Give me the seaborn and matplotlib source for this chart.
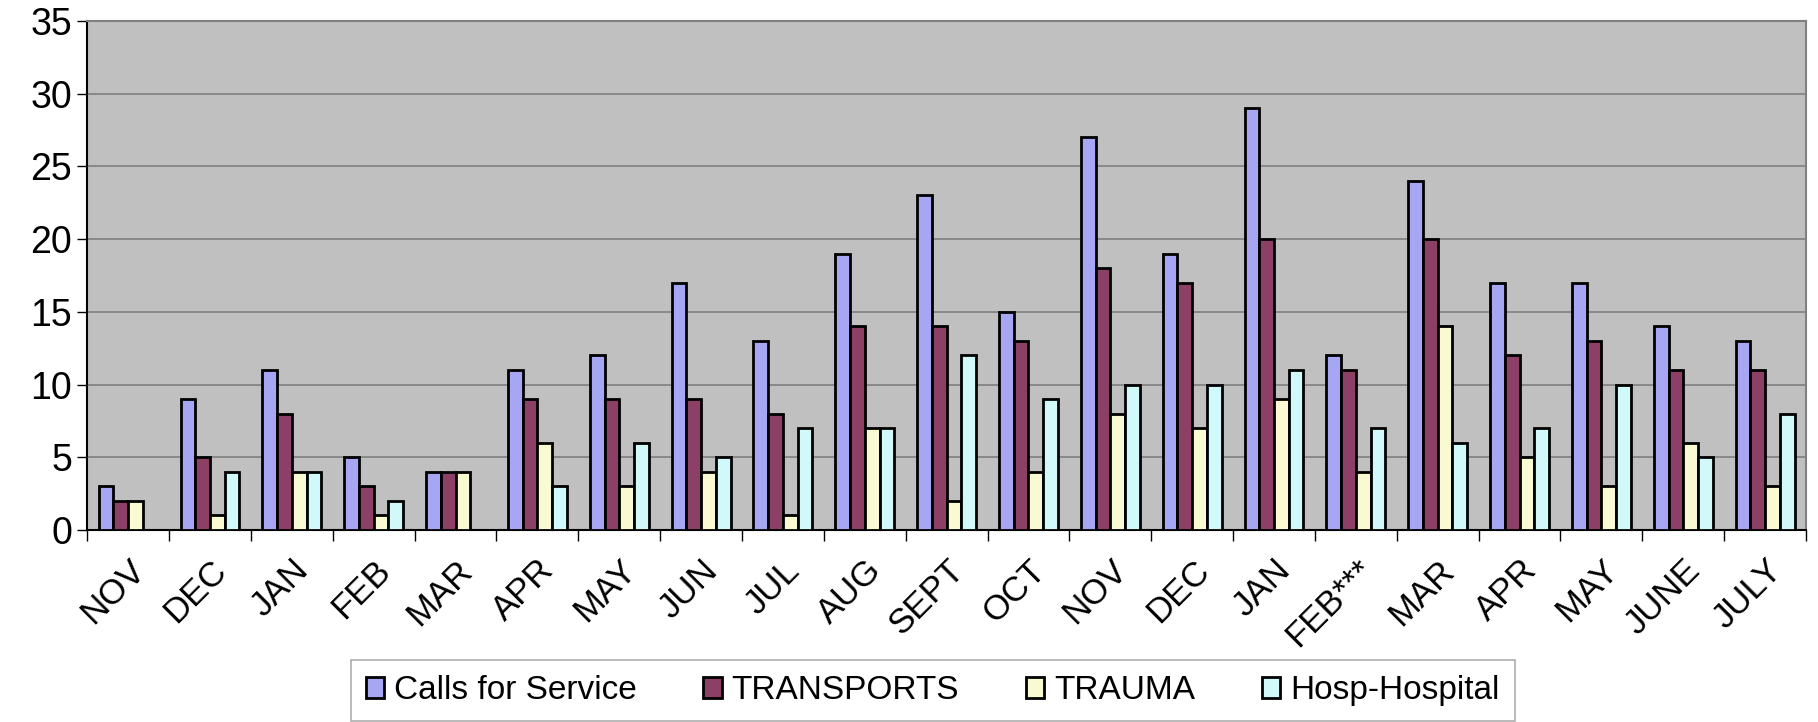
import pandas as pd
import matplotlib.pyplot as plt
import seaborn as sns

# 月份标签（有重复，所以画图时用序号）
months = ["NOV", "DEC", "JAN", "FEB", "MAR", "APR", "MAY", "JUN", "JUL", "AUG", "SEPT",
          "OCT", "NOV", "DEC", "JAN", "FEB***", "MAR", "APR", "MAY", "JUNE", "JULY"]
calls = [3, 9, 11, 5, 4, 11, 12, 17, 13, 19, 23, 15, 27, 19, 29, 12, 24, 17, 17, 14, 13]
transports = [2, 5, 8, 3, 4, 9, 9, 9, 8, 14, 14, 13, 18, 17, 20, 11, 20, 12, 13, 11, 11]
trauma = [2, 1, 4, 1, 4, 6, 3, 4, 1, 7, 2, 4, 8, 7, 9, 4, 14, 5, 3, 6, 3]
hosp = [0, 4, 4, 2, 0, 3, 6, 5, 7, 7, 12, 9, 10, 10, 11, 7, 6, 7, 10, 5, 8]

series = ["Calls for Service", "TRANSPORTS", "TRAUMA", "Hosp-Hospital"]
colors = ["#9999FF", "#993366", "#FFFFCC", "#CCFFFF"]

keys = [str(i) for i in range(len(months))]
df = pd.DataFrame({"key": keys, series[0]: calls, series[1]: transports,
                   series[2]: trauma, series[3]: hosp})
long = df.melt(id_vars="key", var_name="series", value_name="value")

plt.rcParams['font.family'] = ['Liberation Sans', 'DejaVu Sans']

fig = plt.figure(figsize=(18.18, 7.22), dpi=100)
ax = fig.add_axes([0.048, 0.266, 0.9454, 0.705])
ax.set_facecolor("#C0C0C0")

sns.barplot(data=long, x="key", y="value", hue="series", order=keys,
            hue_order=series, palette=colors, width=0.72, gap=0,
            edgecolor="black", linewidth=2.0, ax=ax, zorder=3)

ax.set_ylim(0, 35)
ax.set_yticks(range(0, 36, 5))
ax.set_xlim(-0.5, len(months) - 0.5)
ax.yaxis.grid(True, color="#808080", linewidth=1.2, zorder=0)
ax.set_axisbelow(True)

# 刻度：标签在中间，刻度线在分组之间
ax.set_xticks(range(len(months)))
ax.set_xticklabels(months, rotation=45, ha="right", rotation_mode="anchor", fontsize=25)
ax.tick_params(axis="x", length=0, pad=17)
ax.set_xticks([i - 0.5 for i in range(len(months) + 1)], minor=True)
ax.tick_params(axis="x", which="minor", length=8, color="black", width=1)
ax.tick_params(axis="y", labelsize=27, length=7, width=1, pad=4)

ax.set_xlabel("")
ax.set_ylabel("")

for s in ["left", "bottom"]:
    ax.spines[s].set_color("black")
    ax.spines[s].set_linewidth(1.5)
for s in ["top", "right"]:
    ax.spines[s].set_color("#808080")
    ax.spines[s].set_linewidth(1.5)

handles, labels = ax.get_legend_handles_labels()
ax.legend_.remove()
leg = fig.legend(handles, labels, loc="center", bbox_to_anchor=(0.513, 0.043),
                 ncol=4, fontsize=24, frameon=True, fancybox=False,
                 edgecolor="#999999", handlelength=0.55, handleheight=0.6,
                 handletextpad=0.3, columnspacing=2.0, borderpad=0.45)
leg.get_frame().set_linewidth(1.2)

fig.savefig("out.png", dpi=100)
